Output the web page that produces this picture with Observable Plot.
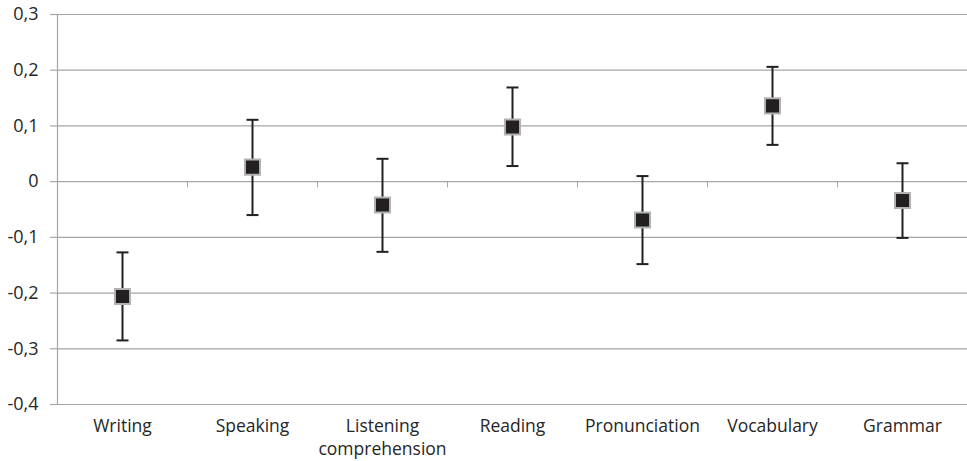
<!DOCTYPE html>
<html><head><meta charset="utf-8">
<script src="https://cdn.jsdelivr.net/npm/d3@7"></script>
<script src="https://cdn.jsdelivr.net/npm/@observablehq/plot@0.6"></script>
<style>body{margin:0;background:#fff}</style>
</head><body><div id="chart"></div>
<script>
const categories = ["Writing","Speaking","Listening comprehension","Reading","Pronunciation","Vocabulary","Grammar"];
const xLabels = ["Writing","Speaking","Listening\ncomprehension","Reading","Pronunciation","Vocabulary","Grammar"];
const means = [-0.206, 0.026, -0.042, 0.098, -0.069, 0.136, -0.034];
const upper = [-0.127, 0.111, 0.041, 0.169, 0.010, 0.206, 0.033];
const lower = [-0.285, -0.060, -0.126, 0.028, -0.148, 0.066, -0.101];
const yTicks = [-0.4, -0.3, -0.2, -0.1, 0, 0.1, 0.2, 0.3];

const rows = categories.map((c, i) => ({i, c, mean: means[i], hi: upper[i], lo: lower[i]}));
const idx = d3.range(categories.length);
const boundaries = d3.range(1, categories.length).map(i => i - 0.5);

const grid = "#a6a6a6";
const ink = "#231f20";
const capSymbol = {draw(ctx, size) { const r = Math.sqrt(size / Math.PI); ctx.moveTo(-r, 0); ctx.lineTo(r, 0); }};
const fmt = d => d === 0 ? "0" : d.toFixed(1).replace(".", ",");

const chart = Plot.plot({
  width: 967,
  height: 461,
  marginLeft: 57,
  marginRight: 0,
  marginTop: 14,
  marginBottom: 57,
  style: {fontFamily: "'Open Sans', sans-serif", fontSize: "18px", color: "#262626", background: "#fff"},
  x: {type: "linear", domain: [-0.5, categories.length - 0.5], axis: null},
  y: {domain: [-0.4, 0.3], axis: null},
  marks: [
    Plot.ruleY(yTicks, {stroke: grid, strokeWidth: 1.2}),
    Plot.axisY({ticks: yTicks, tickFormat: fmt, tickSize: 7, tickPadding: 12, stroke: grid, strokeWidth: 1.2, fill: "#262626", fontSize: 18, label: null}),
    Plot.ruleX([-0.5], {stroke: grid, strokeWidth: 1.2}),
    Plot.ruleX(boundaries, {y1: 0, y2: -0.011, stroke: grid, strokeWidth: 1}),
    Plot.axisX({ticks: idx, tickFormat: i => xLabels[i], tickSize: 0, tickPadding: 10, fontSize: 17.5, lineHeight: 1.37, fill: "#262626", label: null}),
    Plot.ruleX(rows, {x: "i", y1: "lo", y2: "hi", stroke: ink, strokeWidth: 2}),
    Plot.dot(rows, {x: "i", y: "hi", symbol: capSymbol, r: 6, stroke: ink, strokeWidth: 2}),
    Plot.dot(rows, {x: "i", y: "lo", symbol: capSymbol, r: 6, stroke: ink, strokeWidth: 2}),
    Plot.dot(rows, {x: "i", y: "mean", symbol: "square", r: 8.5, fill: ink, stroke: "#b3b3b3", strokeWidth: 2})
  ]
});
document.getElementById("chart").appendChild(chart);
</script>
</body></html>
